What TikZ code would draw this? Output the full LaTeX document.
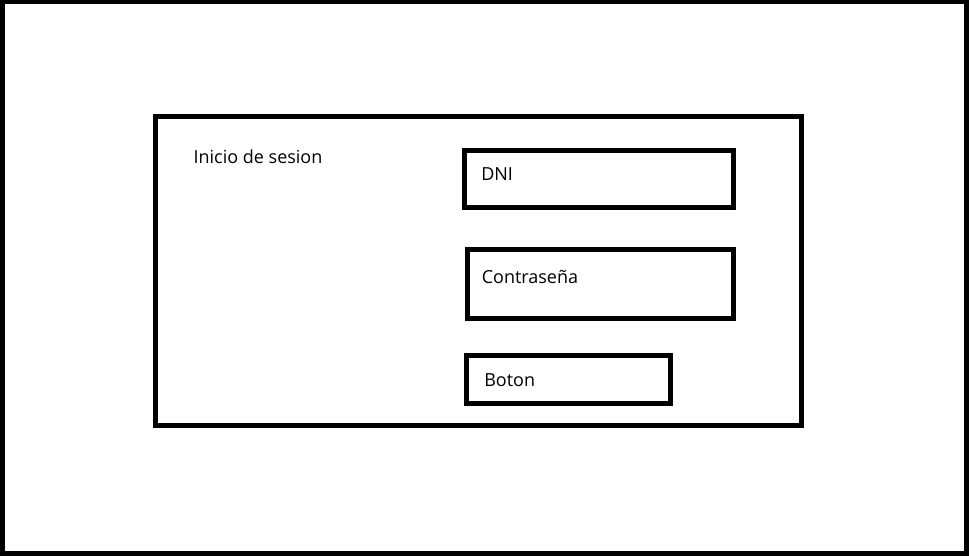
\documentclass[tikz,border=0pt]{standalone}
\usepackage{fontspec}
\setmainfont{Open Sans}
\usetikzlibrary{fit}
\begin{document}
\begin{tikzpicture}[x=0.75pt,y=-0.75pt,
  frame/.style={draw=black, line width=3.75pt, inner sep=0pt, line join=miter},
  label/.style={anchor=base west, inner sep=0pt, font=\fontsize{13.5pt}{16pt}\selectfont}]
\useasboundingbox (0,0) rectangle (969,556);
\fill[white] (0,0) rectangle (969,556);
\node[frame, fit={(2.5,2)(966.5,553.5)}] (outer) {};
\node[frame, fit={(155.8,116.5)(801.7,425.8)}] (panel) {};
\node[frame, fit={(464.8,150)(733.3,207)}] (dni) {};
\node[frame, fit={(467.5,249.8)(733,318.6)}] (pass) {};
\node[frame, fit={(466.5,355.7)(670,403)}] (btn) {};
\node[label] (title) at (193.3,163.3) {Inicio de sesion};
\node[label] (dnit) at (481,180.7) {DNI};
\node[label] (passt) at (481.5,283.3) {Contraseña};
\node[label] (btnt) at (484,386.7) {Boton};
\end{tikzpicture}
\end{document}
